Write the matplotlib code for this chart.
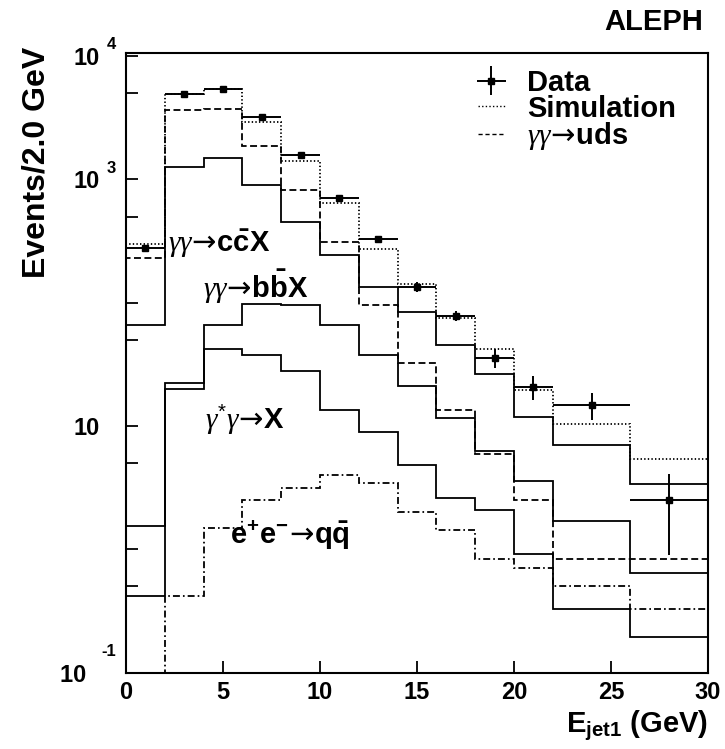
import matplotlib
matplotlib.use("Agg")
import matplotlib.pyplot as plt
import numpy as np

matplotlib.rcParams.update({
    'font.family': ['Liberation Sans', 'DejaVu Sans'],
    'font.weight': 'bold',
    'mathtext.fontset': 'custom',
    'mathtext.rm': 'Liberation Sans:weight=normal',
    'mathtext.bf': 'Liberation Sans:bold',
    'mathtext.it': 'Liberation Serif:style=italic:weight=normal',
    'mathtext.sf': 'DejaVu Sans:weight=normal',
    'lines.scale_dashes': False,
    'axes.linewidth': 1.5,
})

# Bin edges (GeV), last two bins are 4 GeV wide
edges = [0, 2, 4, 6, 8, 10, 12, 14, 16, 18, 20, 22, 26, 30]
centers = [1, 3, 5, 7, 9, 11, 13, 15, 17, 19, 21, 24, 28]
half_widths = [1, 1, 1, 1, 1, 1, 1, 1, 1, 1, 1, 2, 2]

# Data
data = [279, 4955, 5445, 3186, 1585, 705, 330, 134, 78, 35.8, 20.8, 14.9, 2.5]
data_err = [17, 70, 74, 56, 40, 27, 18, 12, 7.5, 6, 4.5, 3.7, 1.6]

# Monte Carlo histograms
simulation = [297, 4885, 5370, 2917, 1407, 647, 275, 142.6, 74.6, 41.8, 19.6, 10.4, 5.36]
gg_uds = [232, 3631, 3743, 1862, 819, 313, 95.7, 32.6, 13.4, 5.9, 2.52, 0.83, 0.83]
gg_ccx = [65.8, 1262, 1500, 899, 454, 243, 134, 84, 45.3, 26.5, 11.8, 6.97, 3.40]
gg_bbx = [1.54, 22.4, 65.8, 98, 95.7, 65.8, 37.4, 21.1, 11.7, 6.27, 3.58, 1.69, 0.64]
gsg_x = [0.42, 20.1, 42.4, 37.4, 27.7, 13.6, 8.9, 4.79, 2.60, 2.07, 0.91, 0.326, 0.195]
ee_qq = [0.01, 0.42, 1.48, 2.51, 3.16, 3.98, 3.48, 2.01, 1.43, 0.83, 0.71, 0.50, 0.326]  # first bin below axis

ytick_vals = [0.1, 0.5, 1, 5, 10, 50, 100, 500, 1000, 5000, 10000]
ytick_labels = ['10  ', '', '', '', '10', '', '', '', '10', '', '10']
# exponents written next to the labelled decades: (tick value, exponent, vertical offset in pt)
exponents = [(0.1, '-1', 15), (1000, '3', 8), (10000, '4', 8)]
xtick_vals = [0, 5, 10, 15, 20, 25, 30]

ARROW = r'\!\mathsf{\rightarrow}\!'

fig = plt.figure(figsize=(7.25, 7.49), dpi=100)
ax = fig.add_axes([0.1738, 0.1019, 0.8028, 0.8277])

lw = 1.3
ax.stairs(simulation, edges, color='black', lw=lw, linestyle=(0, (1.0, 1.6)))
ax.stairs(gg_uds, edges, color='black', lw=lw, linestyle=(0, (5, 2.5)))
ax.stairs(gg_ccx, edges, color='black', lw=lw)
ax.stairs(gg_bbx, edges, color='black', lw=lw)
ax.stairs(gsg_x, edges, color='black', lw=lw)
ax.stairs(ee_qq, edges, color='black', lw=lw, linestyle=(0, (5, 2.2, 1.2, 2.2)))

eb = ax.errorbar(centers, data, xerr=half_widths, yerr=data_err, fmt='s', color='black',
                 markersize=5, elinewidth=1.4, capsize=0)

ax.set_yscale('log')
ax.set_xlim(0, 30)
ax.set_ylim(0.1, 10640)

ax.set_yticks(ytick_vals, ytick_labels)
ax.yaxis.set_minor_locator(matplotlib.ticker.NullLocator())
ax.set_xticks(xtick_vals, [str(v) for v in xtick_vals])
ax.tick_params(axis='y', direction='in', length=8.5, width=1.3, labelsize=17, pad=19)
ax.tick_params(axis='x', direction='in', length=9, width=1.3, labelsize=17, pad=6)

for yv, ex, dy in exponents:
    ax.annotate(ex, xy=(0, yv), xycoords=('axes fraction', 'data'), xytext=(-7, dy),
                textcoords='offset points', fontsize=12, fontweight='bold',
                ha='right', va='center')

ax.set_ylabel('Events/2.0 GeV', fontsize=23, fontweight='bold', loc='top')
ax.yaxis.set_label_coords(-0.128, 1.009)
ax.set_xlabel(r'$\mathbf{E_{jet1}}$ (GeV)', fontsize=21, fontweight='bold', loc='right', labelpad=3)

# Process labels
ax.text(2.16, 260, r'$\gamma\gamma' + ARROW + r'\mathbf{c\bar{c}X}$', fontsize=21, va='baseline')
ax.text(3.97, 110, r'$\gamma\gamma' + ARROW + r'\mathbf{b\bar{b}X}$', fontsize=21, va='baseline')
ax.text(4.07, 9.4, r'$\gamma^{*}\gamma' + ARROW + r'\mathbf{X}$', fontsize=21, va='baseline')
ax.text(5.36, 1.10, r'$\mathbf{e^{+}e^{-}}' + ARROW + r'\mathbf{q\bar{q}}$', fontsize=21, va='baseline')

# Legend
sim_h = matplotlib.lines.Line2D([], [], color='black', lw=1.0, linestyle=(0, (1.0, 1.6)))
uds_h = matplotlib.lines.Line2D([], [], color='black', lw=1.0, linestyle=(0, (3, 2)))
ax.legend([eb, sim_h, uds_h], ['Data', 'Simulation', r'$\gamma\gamma' + ARROW + r'\mathbf{uds}$'],
          loc='upper left', bbox_to_anchor=(0.659, 0.908), bbox_transform=fig.transFigure,
          frameon=False, prop={'size': 21, 'weight': 'bold'}, handlelength=0.92,
          handletextpad=0.78, labelspacing=-0.08, borderpad=0, borderaxespad=0)

fig.text(0.970, 0.970, 'ALEPH', fontsize=21, fontweight='bold', ha='right', va='center')

fig.savefig('out.png', dpi=100)
